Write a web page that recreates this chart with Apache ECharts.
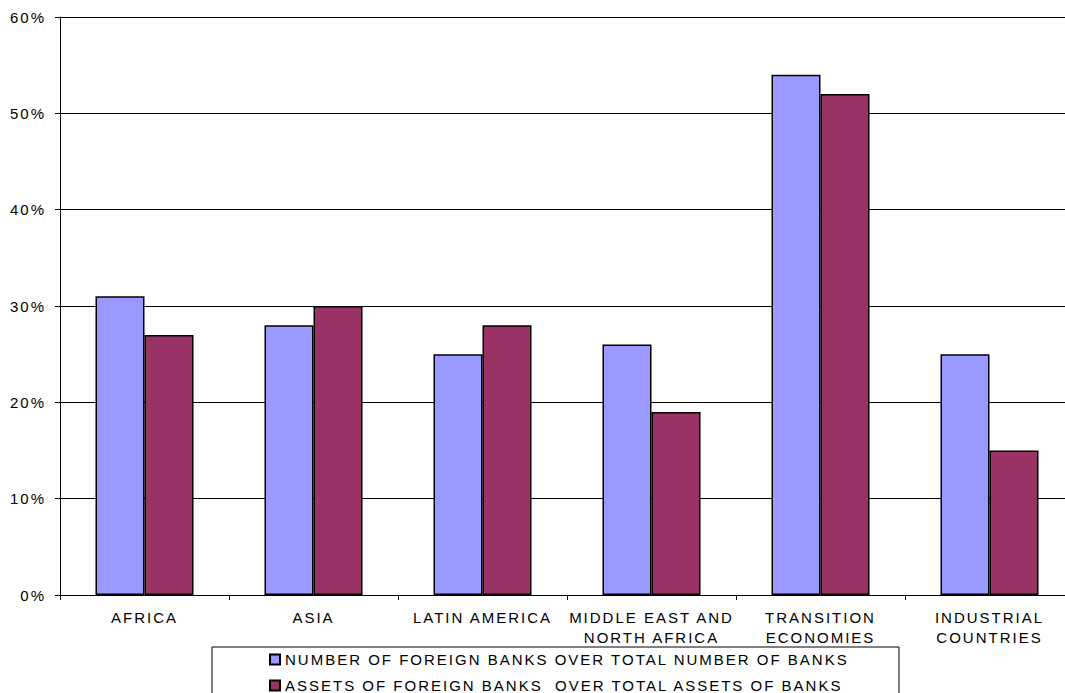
<!DOCTYPE html>
<html>
<head>
<meta charset="utf-8">
<script src="https://cdn.jsdelivr.net/npm/echarts@6/dist/echarts.min.js"></script>
<style>
  html, body { margin: 0; padding: 0; background: #fff; overflow: hidden; }
  /* the drawing runs a little past the right and bottom edges of the page */
  #chart { width: 1080px; height: 730px; letter-spacing: 2px; }
  #chart svg text { white-space: pre; }
</style>
</head>
<body>
<div id="chart"></div>
<script>
// Regions shown along the x axis
const categories = [
  'AFRICA',
  'ASIA',
  'LATIN AMERICA',
  'MIDDLE EAST AND\nNORTH AFRICA',
  'TRANSITION\nECONOMIES',
  'INDUSTRIAL\nCOUNTRIES'
];

// Share of foreign banks (percent)
const numberShareName = 'NUMBER OF FOREIGN BANKS OVER TOTAL NUMBER OF BANKS';
const numberShare = [31, 28, 25, 26, 54, 25];

const assetShareName = 'ASSETS OF FOREIGN BANKS  OVER TOTAL ASSETS OF BANKS';
const assetShare = [27, 30, 28, 19, 52, 15];

// Value axis ticks
const yMin = 0, yMax = 60, yStep = 10;

const FONT = '"Liberation Sans", Arial, sans-serif';
const FONT_SIZE = 15;

// Legend box: fixed outer width, so the right padding depends on the text width
const legendLeft = 212, legendOuterWidth = 686, legendPadLeft = 57;
const ctx = document.createElement('canvas').getContext('2d');
ctx.font = FONT_SIZE + 'px ' + FONT;
const textW = Math.max(ctx.measureText(numberShareName).width, ctx.measureText(assetShareName).width);
const legendPadRight = Math.max(10, legendOuterWidth - legendPadLeft - 10 - 5 - textW);

const chart = echarts.init(document.getElementById('chart'), null, { renderer: 'svg' });

chart.setOption({
  backgroundColor: '#fff',
  animation: false,
  textStyle: { fontFamily: FONT },
  grid: { left: 60, top: 17, width: 1014, height: 578, containLabel: false },
  legend: {
    orient: 'vertical',
    left: legendLeft,
    top: 647,
    padding: [5, legendPadRight, 8, legendPadLeft],
    borderColor: '#000',
    borderWidth: 1,
    itemWidth: 10,
    itemHeight: 10,
    itemGap: 11,
    icon: 'rect',
    textStyle: { fontSize: FONT_SIZE, color: '#000', fontFamily: FONT },
    data: [numberShareName, assetShareName]
  },
  xAxis: {
    type: 'category',
    data: categories,
    axisLine: { lineStyle: { color: '#000', width: 1 } },
    axisTick: { show: true, length: 5, lineStyle: { color: '#000' } },
    axisLabel: {
      fontSize: FONT_SIZE, color: '#000', margin: 12, lineHeight: 20,
      fontFamily: FONT, interval: 0
    },
    splitLine: { show: false }
  },
  yAxis: {
    type: 'value',
    min: yMin, max: yMax, interval: yStep,
    axisLine: { show: true, lineStyle: { color: '#000', width: 1 } },
    axisTick: { show: true, length: 5, lineStyle: { color: '#000' } },
    axisLabel: {
      formatter: '{value}%', fontSize: FONT_SIZE, color: '#000', margin: 14,
      fontFamily: FONT
    },
    splitLine: { show: true, lineStyle: { color: '#000', width: 1 } }
  },
  series: [
    {
      name: numberShareName,
      type: 'bar',
      data: numberShare,
      barGap: '0%',
      barCategoryGap: '42%',
      itemStyle: { color: '#9999FF', borderColor: '#000', borderWidth: 1.5 }
    },
    {
      name: assetShareName,
      type: 'bar',
      data: assetShare,
      barGap: '0%',
      barCategoryGap: '42%',
      itemStyle: { color: '#993366', borderColor: '#000', borderWidth: 1.5 }
    }
  ]
});
</script>
</body>
</html>
